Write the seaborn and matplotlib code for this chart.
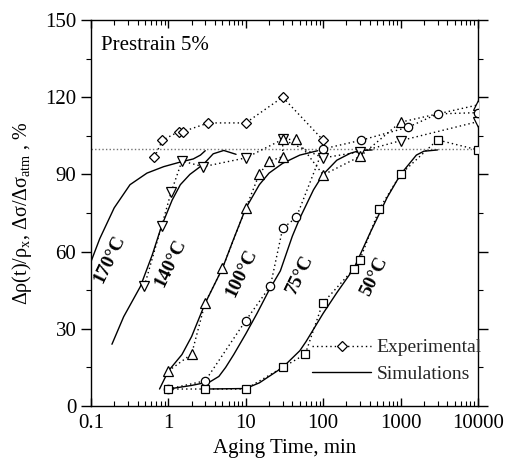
import numpy as np
import pandas as pd
import seaborn as sns
import matplotlib
matplotlib.use("Agg")
import matplotlib.pyplot as plt
from matplotlib.lines import Line2D
from matplotlib.ticker import LogLocator, FixedLocator, NullFormatter, MultipleLocator, FixedFormatter

# ---------------- data ----------------
# Experimental points
exp170_x = [0.66, 0.84, 1.36, 1.53, 3.3, 10, 30, 100]
exp170_y = [96.6, 103.3, 106.6, 106.6, 110, 110, 120, 103.3]

exp140_x = [0.49, 0.82, 1.09, 1.5, 2.83, 10, 30, 100, 300, 1000, 10000]
exp140_y = [46.6, 70, 83.2, 95.2, 93, 96.4, 103.6, 96.4, 98.8, 103.1, 110.5]

exp100_x = [1, 2, 3, 5, 10, 15, 20, 30, 30, 45, 100, 300, 1000, 10000]
exp100_y = [13.6, 20.2, 40.2, 53.5, 76.8, 90.2, 95.1, 96.9, 103.6, 103.6, 89.8, 97, 110.3, 117]

exp75_x = [1, 3, 10, 20.8, 30, 45, 100, 312, 1240, 3000, 10000]
exp75_y = [6.6, 9.8, 33.2, 46.6, 69, 73.3, 99.9, 103.3, 108.3, 113.5, 114]

exp50_x = [1, 3, 10, 30, 58.6, 98.5, 247, 297, 532, 1000, 3000, 10000]
exp50_y = [6.6, 6.6, 6.6, 15, 20.1, 39.9, 53.2, 56.6, 76.6, 90, 103.4, 99.5]

# Simulation curves
sim170_x = [0.1, 0.13, 0.2, 0.32, 0.53, 0.87, 1.43, 2.1, 2.6, 3.0]
sim170_y = [56, 65, 77, 86, 90.5, 93, 94.8, 96, 97.5, 99.2]

sim140_x = [0.187, 0.265, 0.435, 0.62, 0.82, 1.12, 1.43, 1.9, 2.86, 3.8, 5.2, 7.5]
sim140_y = [24, 34.7, 46.4, 58.7, 70, 80, 86, 90, 94, 98, 99.3, 97.8]

sim100_x = [0.77, 1.0, 1.5, 2, 3, 5, 7, 10, 15, 20, 30, 50, 85]
sim100_y = [6.6, 13.6, 20, 27, 40, 53.5, 65, 76.8, 86, 90.5, 94.3, 97.5, 99.2]

sim75_x = [1, 2, 3.5, 4.5, 5.5, 7, 10, 14, 20, 28, 40, 50, 75, 100, 150, 224, 300, 430]
sim75_y = [6.6, 8, 9.5, 11.5, 15, 20, 28, 36, 45, 52.5, 66, 73, 84, 90, 95.5, 98.2, 99.3, 99.5]

sim50_x = [3, 10, 15, 20, 30, 50, 60, 100, 150, 250, 400, 670, 1000, 1600, 2000, 3000]
sim50_y = [6.6, 6.8, 9, 11.5, 15, 21.5, 25, 36, 44, 53.5, 67, 81, 90, 97.5, 99, 99.5]

ref_level = 100

temp_labels = ["170°C", "140°C", "100°C", "75°C", "50°C"]
label_x = [0.172, 1.06, 8.96, 50.6, 460]
label_y = [57, 55.5, 51.6, 51.3, 50.3]

x_ticks = [0.1, 1, 10, 100, 1000, 10000]
x_ticklabels = ["0.1", "1", "10", "100", "1000", "10000"]
y_ticks = [0, 30, 60, 90, 120, 150]

# ---------------- styling ----------------
sns.set_theme(style="ticks")
plt.rcParams["font.family"] = ["Liberation Serif", "DejaVu Serif"]
plt.rcParams["mathtext.fontset"] = "custom"
plt.rcParams["mathtext.rm"] = "Liberation Serif"
plt.rcParams["mathtext.it"] = "Liberation Serif:italic"

fig = plt.figure(figsize=(5.05, 4.69), dpi=100)
ax = fig.add_axes([0.180, 0.1343, 0.7665, 0.8231])

ax.axhline(ref_level, color="0.45", ls=(0, (1, 1.6)), lw=1.0, zorder=1)

sims = [(sim170_x, sim170_y), (sim140_x, sim140_y), (sim100_x, sim100_y),
        (sim75_x, sim75_y), (sim50_x, sim50_y)]
for sx, sy in sims:
    df = pd.DataFrame({"t": sx, "v": sy})
    sns.lineplot(data=df, x="t", y="v", ax=ax, sort=False, estimator=None,
                 color="black", lw=1.0, zorder=2)

exps = [(exp170_x, exp170_y, "D", 5.5), (exp140_x, exp140_y, "v", 7),
        (exp100_x, exp100_y, "^", 7), (exp75_x, exp75_y, "o", 6),
        (exp50_x, exp50_y, "s", 6)]
for ex, ey, m, ms in exps:
    df = pd.DataFrame({"t": ex, "v": ey})
    sns.lineplot(data=df, x="t", y="v", ax=ax, sort=False, estimator=None,
                 color="black", ls=(0, (1, 2.2)), lw=1.0, marker=m, ms=ms,
                 mfc="white", mec="black", mew=0.9, zorder=3)

ax.set_xscale("log")
ax.set_xlim(0.1, 10000)
ax.set_ylim(0, 150)

ax.xaxis.set_major_locator(FixedLocator(x_ticks))
ax.xaxis.set_major_formatter(FixedFormatter(x_ticklabels))
ax.xaxis.set_minor_locator(LogLocator(base=10, subs=np.arange(2, 10)))
ax.xaxis.set_minor_formatter(NullFormatter())
ax.yaxis.set_major_locator(FixedLocator(y_ticks))
ax.yaxis.set_minor_locator(MultipleLocator(15))

ax.tick_params(axis="x", which="both", direction="in", top=True, bottom=True,
               labelsize=15, colors="black", pad=6)
ax.tick_params(axis="x", which="major", length=6, width=1)
ax.tick_params(axis="x", which="minor", length=3.5, width=0.8)
ax.tick_params(axis="y", which="both", direction="out", left=True, right=True,
               labelsize=15, colors="black")
ax.tick_params(axis="y", which="major", length=7, width=1)
ax.tick_params(axis="y", which="minor", length=3.5, width=0.8)

for s in ax.spines.values():
    s.set_color("black")
    s.set_linewidth(1.0)

ax.set_xlabel("Aging Time, min", fontsize=15, color="black", labelpad=4)
ax.set_ylabel("Δρ(t)/ρ$_\\mathrm{x}$, Δσ/Δσ$_\\mathrm{atm}$ , %", fontsize=14.5,
              color="black", labelpad=8)

ax.text(0.026, 0.935, "Prestrain 5%", transform=ax.transAxes, fontsize=15,
        ha="left", va="center", color="black")

for lbl, lx, ly in zip(temp_labels, label_x, label_y):
    ax.text(lx, ly, lbl, rotation=64, fontsize=14, fontweight="bold",
            ha="center", va="center", color="black", rotation_mode="anchor")

handles = [Line2D([], [], color="black", ls=(0, (1, 2.2)), lw=1.0, marker="D",
                  ms=5.5, mfc="white", mec="black", mew=0.9),
           Line2D([], [], color="black", lw=1.0)]
ax.legend(handles, ["Experimental", "Simulations"], loc="lower left",
          bbox_to_anchor=(0.527, 0.015), frameon=False, fontsize=14,
          handlelength=3.0, handletextpad=0.3, labelspacing=0.45)

fig.savefig("out.png", dpi=100)
